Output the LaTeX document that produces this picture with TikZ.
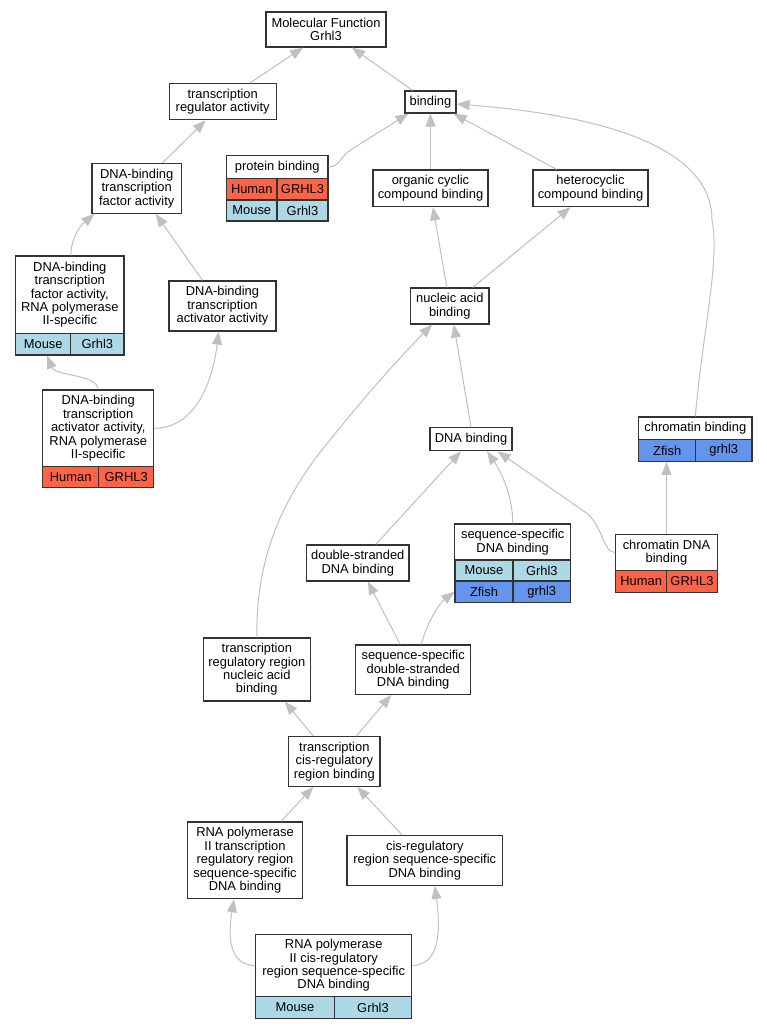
\documentclass[tikz,border=0pt]{standalone}
\usepackage{fontspec}
\setmainfont{Liberation Sans}
\usetikzlibrary{arrows.meta,calc}
\definecolor{humanred}{HTML}{FF6347}
\definecolor{mouseblue}{HTML}{ADD8E6}
\definecolor{fishblue}{HTML}{6495ED}
\definecolor{edgegray}{HTML}{C0C0C0}
\definecolor{boxline}{HTML}{333333}
\tikzset{
  term/.style={draw=boxline, line width=1.2pt, fill=white, align=center, inner sep=0pt, font=\fontsize{12.9}{13.4}\selectfont},
  human/.style={term, fill=humanred},
  mouse/.style={term, fill=mouseblue},
  fish/.style={term, fill=fishblue},
  isa/.style={draw=edgegray, line width=1pt, -{Triangle[length=13pt,width=10pt]}}
}
\begin{document}
\begin{tikzpicture}[x=1pt,y=-1pt]
\fill[white] (0,0) rectangle (767,1029);
\node[term, minimum width=120, minimum height=35] (mf) at (326,29.5) {Molecular Function\\Grhl3};
\node[term, minimum width=107, minimum height=36] (tra) at (222.7,101.7) {transcription\\regulator activity};
\node[term, minimum width=51, minimum height=22] (bind) at (430.5,102) {binding};
\node[term, minimum width=101.3, minimum height=22.6] (pb) at (277.3,167) {protein binding};
\node[human, minimum width=50.3, minimum height=21.7] (pbhs) at (251.8,189.2) {Human};
\node[human, minimum width=51, minimum height=21.7] (pbhg) at (302.5,189.2) {GRHL3};
\node[mouse, minimum width=50.3, minimum height=21] (pbms) at (251.8,210.5) {Mouse};
\node[mouse, minimum width=51, minimum height=21] (pbmg) at (302.5,210.5) {Grhl3};
\node[term, minimum width=89.3, minimum height=50] (dbtfa) at (136.7,188.3) {DNA-binding\\transcription\\factor activity};
\node[term, minimum width=115, minimum height=36.7] (occb) at (430.5,188.3) {organic cyclic\\compound binding};
\node[term, minimum width=115, minimum height=36.7] (hcb) at (590.5,188.3) {heterocyclic\\compound binding};
\node[term, minimum width=108.3, minimum height=77.3] (dbtfa2) at (69.8,294.7) {DNA-binding\\transcription\\factor activity,\\RNA polymerase\\II-specific};
\node[mouse, minimum width=55, minimum height=21.7] (dbtfa2ms) at (43.2,344.2) {Mouse};
\node[mouse, minimum width=53.3, minimum height=21.7] (dbtfa2mg) at (97.3,344.2) {Grhl3};
\node[term, minimum width=107, minimum height=50] (dbtaa) at (222.5,306) {DNA-binding\\transcription\\activator activity};
\node[term, minimum width=78.3, minimum height=36] (nab) at (449.8,306) {nucleic acid\\binding};
\node[term, minimum width=111, minimum height=76.7] (dbtaa2) at (98.2,428.3) {DNA-binding\\transcription\\activator activity,\\RNA polymerase\\II-specific};
\node[human, minimum width=56, minimum height=21] (dbtaa2hs) at (70.7,477.2) {Human};
\node[human, minimum width=55, minimum height=21] (dbtaa2hg) at (126.2,477.2) {GRHL3};
\node[term, minimum width=82, minimum height=23] (dnab) at (471,439.2) {DNA binding};
\node[term, minimum width=113.3, minimum height=22.7] (chb) at (695.3,428.3) {chromatin binding};
\node[fish, minimum width=57, minimum height=21.6] (chbzs) at (667.2,450.5) {Zfish};
\node[fish, minimum width=56.3, minimum height=21.6] (chbzg) at (723.8,450.5) {grhl3};
\node[term, minimum width=116, minimum height=36] (ssdb) at (512.7,542) {sequence-specific\\DNA binding};
\node[mouse, minimum width=58, minimum height=21] (ssdbms) at (484,570.5) {Mouse};
\node[mouse, minimum width=57.7, minimum height=21] (ssdbmg) at (541.8,570.5) {Grhl3};
\node[fish, minimum width=58, minimum height=21.3] (ssdbzs) at (484,591.7) {Zfish};
\node[fish, minimum width=57.7, minimum height=21.3] (ssdbzg) at (541.8,591.7) {grhl3};
\node[term, minimum width=101.6, minimum height=36.4] (chdb) at (666.5,552.5) {chromatin DNA\\binding};
\node[human, minimum width=51, minimum height=21.6] (chdbhs) at (641.2,581.5) {Human};
\node[human, minimum width=50.6, minimum height=21.6] (chdbhg) at (692,581.5) {GRHL3};
\node[term, minimum width=102.3, minimum height=36] (dsdb) at (357.8,563) {double-stranded\\DNA binding};
\node[term, minimum width=107, minimum height=63] (trrnab) at (256.8,669.5) {transcription\\regulatory region\\nucleic acid\\binding};
\node[term, minimum width=115, minimum height=49.3] (ssdsdb) at (413.2,669.7) {sequence-specific\\double-stranded\\DNA binding};
\node[term, minimum width=91.3, minimum height=49.6] (tcrrb) at (334.3,761.5) {transcription\\cis-regulatory\\region binding};
\node[term, minimum width=115.4, minimum height=76.7] (rp2trr) at (245,860.3) {RNA polymerase\\II transcription\\regulatory region\\sequence-specific\\DNA binding};
\node[term, minimum width=155.7, minimum height=50] (crrssdb) at (424.8,860.3) {cis-regulatory\\region sequence-specific\\DNA binding};
\node[term, minimum width=156, minimum height=62.4] (rp2crr) at (333.7,965.5) {RNA polymerase\\II cis-regulatory\\region sequence-specific\\DNA binding};
\node[mouse, minimum width=78.6, minimum height=21.6] (rp2crrms) at (295,1007.5) {Mouse};
\node[mouse, minimum width=77.4, minimum height=21.6] (rp2crrmg) at (373,1007.5) {Grhl3};
\draw[isa] ($(tra.north)+(27,0)$) -- ($(mf.south)+(-23,0)$);
\draw[isa] ($(bind.north)+(-18,0)$) -- ($(mf.south)+(26,0)$);
\draw[isa] ($(dbtfa.north)+(26,0)$) -- ($(tra.south)+(-17,0)$);
\draw[isa] (pb.east) .. controls (340,167) and (340,156) .. (352,149) -- ($(bind.south)+(-22,0)$);
\draw[isa] (occb.north) -- (bind.south);
\draw[isa] ($(hcb.north)+(-34,0)$) -- ($(bind.south east)+(-3,0)$);
\draw[isa] (chb.north) .. controls (703,330) and (720,260) .. (712,220) .. controls (712,170) and (660,120) .. ($(bind.east)+(0,2)$);
\draw[isa] ($(dbtfa2.north)+(1,0)$) .. controls (71,238) and (80,226) .. ($(dbtfa.south west)+(3,0)$);
\draw[isa] ($(dbtaa.north)+(-20,0)$) -- ($(dbtfa.south)+(19,0)$);
\draw[isa] ($(nab.north)+(-3,0)$) -- ($(occb.south)+(2.5,0)$);
\draw[isa] ($(nab.north)+(23,0)$) -- ($(hcb.south)+(-20,0)$);
\draw[isa] (dbtaa2.north) .. controls (97,374) and (55,376) .. ($(dbtfa2ms.south)+(4,0)$);
\draw[isa] (dbtaa2.east) .. controls (200,428) and (214,372) .. ($(dbtaa.south)+(-4,0)$);
\draw[isa] (dnab.north) -- ($(nab.south)+(4,0)$);
\draw[isa] (trrnab.north) .. controls (256,560) and (280,500) .. (330,440) .. controls (370,390) and (405,352) .. ($(nab.south west)+(22,0)$);
\draw[isa] ($(dsdb.north)+(18,0)$) -- ($(dnab.south)+(-10,0)$);
\draw[isa] (ssdb.north) .. controls (513,495) and (500,470) .. ($(dnab.south)+(16,0)$);
\draw[isa] (chdb.west) .. controls (603,552) and (604,530) .. (588,514) -- ($(dnab.south east)+(-15,0)$);
\draw[isa] (chdb.north) -- (chdb.north |- chbzs.south);
\draw[isa] ($(ssdsdb.north)+(-13,0)$) -- ($(dsdb.south)+(10,0)$);
\draw[isa] ($(ssdsdb.north)+(8,0)$) .. controls (428,620) and (440,603) .. (ssdbzs.west);
\draw[isa] ($(tcrrb.north)+(-21,0)$) -- ($(trrnab.south)+(28,0)$);
\draw[isa] ($(tcrrb.north)+(22,0)$) -- ($(ssdsdb.south)+(-22,0)$);
\draw[isa] ($(rp2trr.north)+(36,0)$) -- ($(tcrrb.south)+(-21,0)$);
\draw[isa] ($(crrssdb.north)+(-23,0)$) -- ($(tcrrb.south)+(23,0)$);
\draw[isa] (rp2crr.west) .. controls (226,965) and (229,930) .. ($(rp2trr.south)+(-11,0)$);
\draw[isa] (rp2crr.east) .. controls (442,965) and (440,925) .. ($(crrssdb.south)+(10,0)$);
\end{tikzpicture}
\end{document}
